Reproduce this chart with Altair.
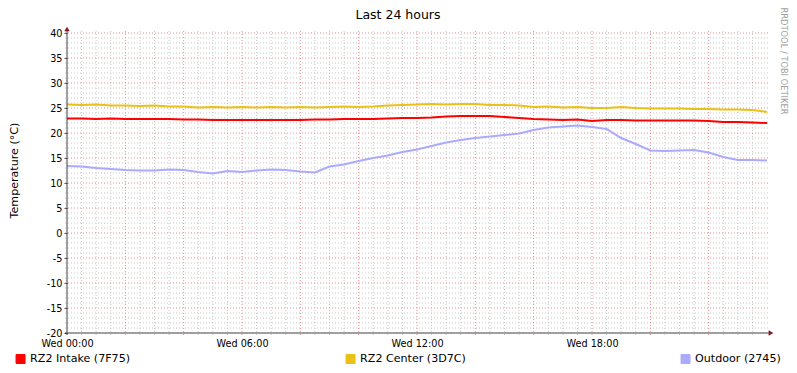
import altair as alt
import pandas as pd

TITLE = "Last 24 hours"
Y_TITLE = "Temperature (°C)"
WATERMARK = "RRDTOOL / TOBI OETIKER"
SERIES = ["RZ2 Intake (7F75)", "RZ2 Center (3D7C)", "Outdoor (2745)"]
COLORS = ["#FF0000", "#EAC117", "#AAAAFF"]
X_TICKS = [0, 6, 12, 18]
X_TICK_LABELS = ["Wed 00:00", "Wed 06:00", "Wed 12:00", "Wed 18:00"]
Y_TICKS = [-20, -15, -10, -5, 0, 5, 10, 15, 20, 25, 30, 35, 40]

hours = [i * 0.5 for i in range(49)]
intake = [22.9, 22.9, 22.8, 22.9, 22.8, 22.8, 22.8, 22.8, 22.7, 22.7, 22.6, 22.6,
          22.6, 22.6, 22.6, 22.6, 22.6, 22.7, 22.7, 22.8, 22.8, 22.8, 22.9, 23.0,
          23.0, 23.1, 23.3, 23.4, 23.4, 23.4, 23.2, 23.0, 22.8, 22.7, 22.6, 22.7,
          22.4, 22.6, 22.6, 22.5, 22.5, 22.5, 22.5, 22.5, 22.4, 22.2, 22.2, 22.1, 22.0]
center = [25.7, 25.6, 25.7, 25.5, 25.5, 25.4, 25.5, 25.3, 25.3, 25.1, 25.2, 25.1,
          25.2, 25.1, 25.2, 25.1, 25.2, 25.1, 25.2, 25.3, 25.2, 25.3, 25.5, 25.6,
          25.7, 25.8, 25.7, 25.8, 25.8, 25.6, 25.6, 25.5, 25.2, 25.3, 25.1, 25.2,
          25.0, 25.0, 25.2, 25.0, 24.9, 24.9, 24.9, 24.8, 24.8, 24.7, 24.7, 24.6, 24.2]
outdoor = [13.4, 13.3, 13.0, 12.8, 12.6, 12.5, 12.5, 12.7, 12.6, 12.2, 11.9, 12.4,
           12.2, 12.5, 12.7, 12.6, 12.3, 12.1, 13.3, 13.7, 14.4, 15.0, 15.5, 16.2,
           16.7, 17.4, 18.1, 18.6, 19.0, 19.3, 19.6, 19.9, 20.6, 21.1, 21.3, 21.5,
           21.2, 20.8, 19.0, 17.8, 16.5, 16.4, 16.5, 16.6, 16.1, 15.2, 14.6, 14.6, 14.5]

FONT = "DejaVu Sans"

rows = []
for name, vals in zip(SERIES, [intake, center, outdoor]):
    for h, v in zip(hours, vals):
        rows.append({"h": h, "temp": v, "series": name})
df = pd.DataFrame(rows)

minor_x = pd.DataFrame({"h": [h for h in hours if h % 2 != 0]})
major_x = pd.DataFrame({"h": list(range(2, 24, 2))})
minor_y = pd.DataFrame({"v": [v for v in range(-19, 40) if v % 5 != 0]})
major_y = pd.DataFrame({"v": list(range(-15, 41, 5))})
one = pd.DataFrame({"t": [TITLE], "w": [WATERMARK]})

xscale = alt.Scale(domain=[0, 24], nice=False, zero=False)
yscale = alt.Scale(domain=[-20, 40], nice=False, zero=False)

label_expr = ""
for v, lab in zip(X_TICKS, X_TICK_LABELS):
    label_expr += f"datum.value == {v} ? '{lab}' : "
label_expr += "''"

MINOR = "#C8C8C8"
MAJOR = "#E89090"
DASH = [1, 2]

x_axis = alt.Axis(values=X_TICKS, labelExpr=label_expr, ticks=False, labelPadding=5,
                  title=None, labelFlush=False, labelOverlap=False, domain=False,
                  grid=False, labelFontSize=9.7)
y_axis = alt.Axis(values=Y_TICKS, labelExpr="'' + datum.value", labelOverlap=False,
                  tickSize=3, tickColor="#404040", labelPadding=2,
                  domain=False, grid=False, labelFontSize=9.7,
                  title=Y_TITLE, titleX=-53, titleY=137, titleAngle=270,
                  titleAlign="center", titleBaseline="middle", titleFontSize=11.1,
                  titleFontWeight="normal", titleFont=FONT, titleColor="#000000")


def X(field):
    return alt.X(field, scale=xscale, axis=x_axis)


def Y(field):
    return alt.Y(field, scale=yscale, axis=y_axis)


base_grid_v = alt.Chart(minor_x).mark_rule(color=MINOR, strokeDash=DASH, strokeWidth=1).encode(
    x=X("h:Q"), y=alt.value(-2), y2=alt.value(302))
major_grid_v = alt.Chart(major_x).mark_rule(color=MAJOR, strokeDash=DASH, strokeWidth=1).encode(
    x=X("h:Q"), y=alt.value(-2), y2=alt.value(302))
minor_grid_h = alt.Chart(minor_y).mark_rule(color=MINOR, strokeDash=DASH, strokeWidth=1).encode(
    y=Y("v:Q"), x=alt.value(-2), x2=alt.value(702))
major_grid_h = alt.Chart(major_y).mark_rule(color=MAJOR, strokeDash=DASH, strokeWidth=1).encode(
    y=Y("v:Q"), x=alt.value(-2), x2=alt.value(702))

legend = alt.Legend(orient="none", legendX=-52, legendY=320, direction="horizontal",
                    title=None, symbolType="square", symbolSize=81,
                    symbolStrokeColor="#000000", symbolStrokeWidth=1, symbolOpacity=1,
                    labelFont=FONT, labelFontSize=11.1, labelColor="#000000",
                    columnPadding=213, labelOffset=4, padding=0)

legend_layer = alt.Chart(df).mark_square(opacity=0).encode(
    x=X("h:Q"),
    y=Y("temp:Q"),
    fill=alt.Fill("series:N", scale=alt.Scale(domain=SERIES, range=COLORS), legend=legend,
                  sort=SERIES))

lines = alt.Chart(df).mark_line(strokeWidth=2).encode(
    x=X("h:Q"),
    y=Y("temp:Q"),
    stroke=alt.Stroke("series:N", scale=alt.Scale(domain=SERIES, range=COLORS), legend=None,
                      sort=SERIES),
    detail="series:N")

axis_left = alt.Chart(one).mark_rule(color="#404040", strokeWidth=1).encode(
    x=alt.value(0), y=alt.value(-2), y2=alt.value(302))
axis_bottom = alt.Chart(one).mark_rule(color="#404040", strokeWidth=1).encode(
    y=alt.value(300), x=alt.value(-2), x2=alt.value(703))
arrow_up = alt.Chart(one).mark_point(shape="triangle-up", filled=True, size=30,
                                     color="#7F1F1F", opacity=1).encode(
    x=alt.value(0), y=alt.value(-4))
arrow_right = alt.Chart(one).mark_point(shape="triangle-right", filled=True, size=30,
                                        color="#7F1F1F", opacity=1).encode(
    x=alt.value(704), y=alt.value(300))

title_txt = alt.Chart(one).mark_text(font=FONT, fontSize=12.5, color="#000000",
                                     align="center", baseline="middle").encode(
    text="t:N", x=alt.value(331), y=alt.value(-18))
water_txt = alt.Chart(one).mark_text(font=FONT, fontSize=8.3, color="#A0A0A0",
                                     align="center", baseline="middle", angle=90).encode(
    text="w:N", x=alt.value(716), y=alt.value(28))

chart = alt.layer(
    base_grid_v, minor_grid_h, major_grid_v, major_grid_h,
    legend_layer, lines, axis_left, axis_bottom, arrow_up, arrow_right,
    title_txt, water_txt
).properties(
    width=700, height=300,
    autosize=alt.AutoSizeParams(type="none"),
    padding={"left": 59, "top": 25, "right": 22, "bottom": 31},
    background="white",
).configure_view(stroke=None).configure_axis(
    labelFont=FONT, labelColor="#000000"
)

chart.save("out.html", embed_options={"renderer": "svg", "actions": False})
